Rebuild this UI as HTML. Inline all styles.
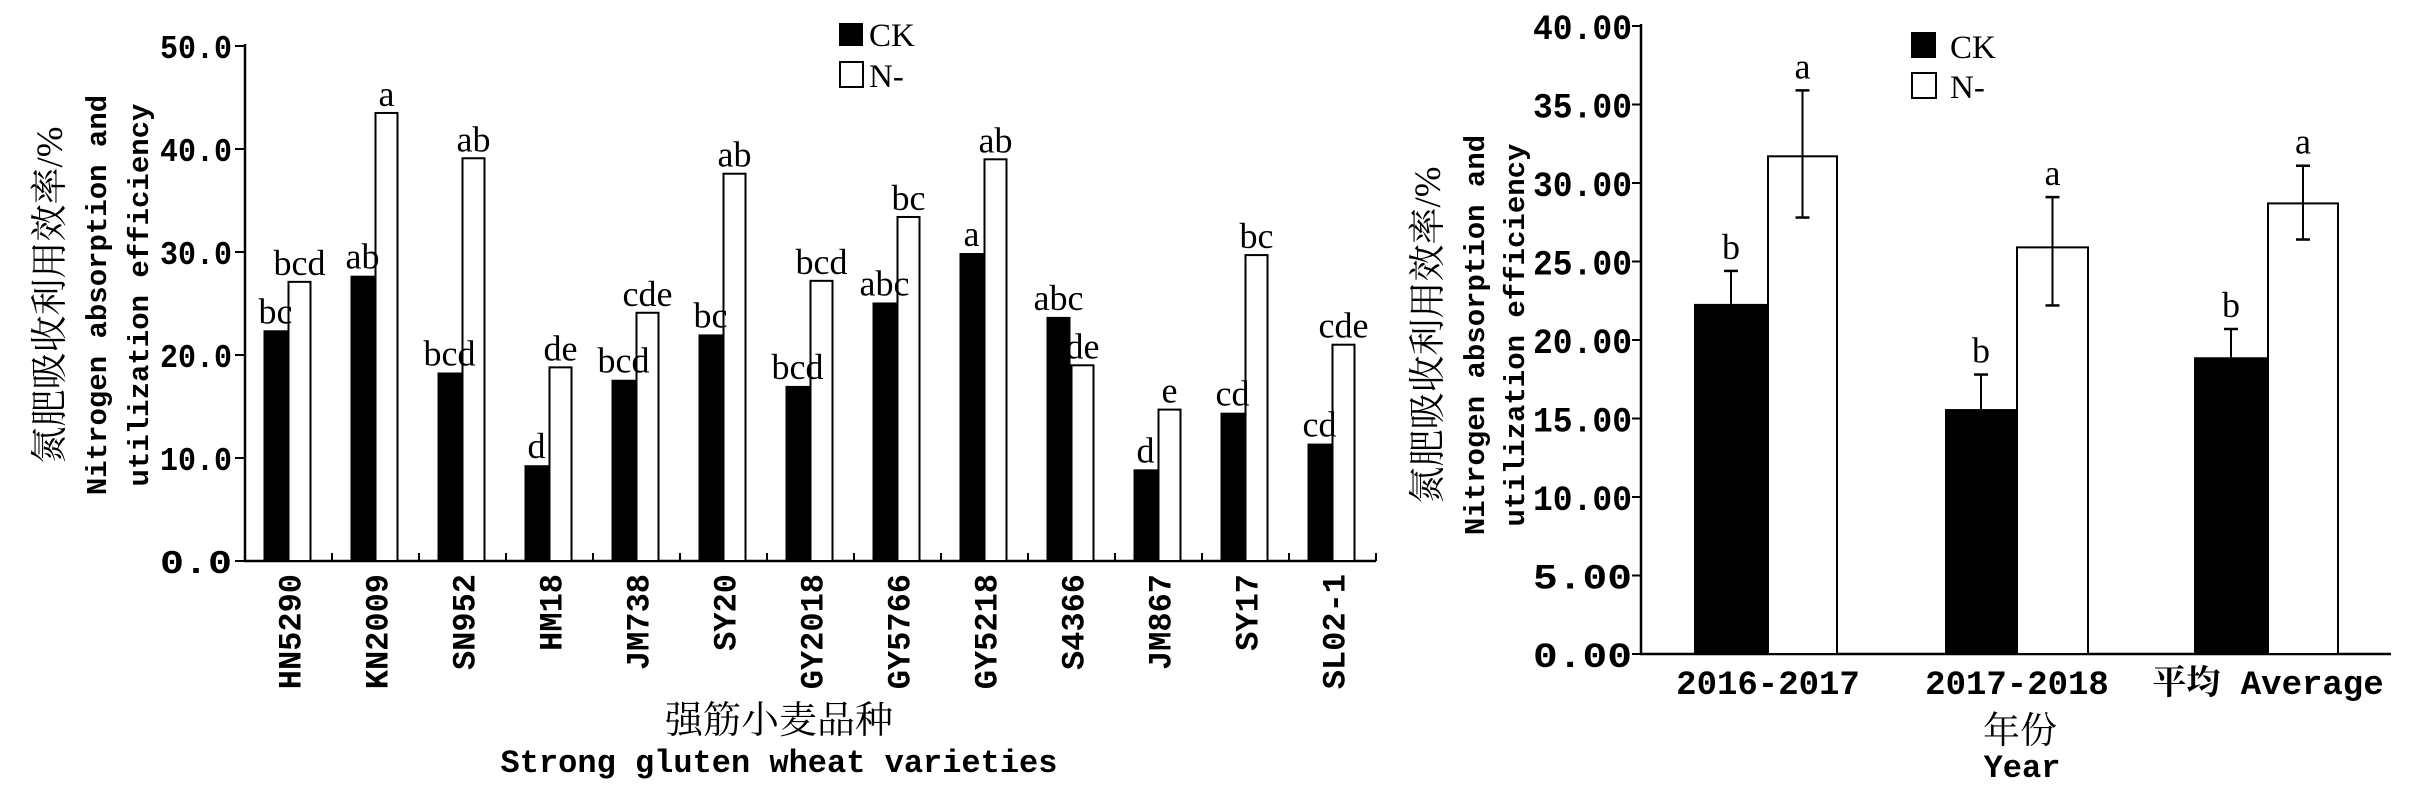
<!DOCTYPE html>
<html><head><meta charset="utf-8"><style>
html,body{margin:0;padding:0;background:#fff;}
svg{display:block;}
.m{font-family:"Liberation Mono","Noto Serif CJK SC",monospace;}
.s{font-family:"Liberation Serif","Noto Serif CJK SC",serif;}
.c{font-family:"Liberation Serif","Noto Serif CJK SC",serif;}
</style></head><body>
<svg width="2418" height="798" viewBox="0 0 2418 798" xmlns="http://www.w3.org/2000/svg">
<rect width="2418" height="798" fill="#fff"/>
<g id="left"></g>
<g id="right"></g>
</svg>
<script>
const NS="http://www.w3.org/2000/svg";
function el(p,t,a,txt){const e=document.createElementNS(NS,t);for(const k in a)e.setAttribute(k,a[k]);if(txt!==undefined)e.textContent=txt;p.appendChild(e);return e;}
const L=document.getElementById('left'),R=document.getElementById('right');
// LEFT
const yL=v=>561-v*10.3;
el(L,'line',{x1:245,y1:44,x2:245,y2:562,stroke:'#000','stroke-width':2.5});
el(L,'line',{x1:244,y1:561,x2:1376,y2:561,stroke:'#000','stroke-width':2.5});
for(let v=0;v<=50;v+=10){const y=yL(v);el(L,'line',{x1:235,y1:y,x2:245,y2:y,stroke:'#000','stroke-width':2});
el(L,'text',{x:232,y:y+12,'text-anchor':'end','font-size':33,'font-weight':'bold',class:'m',textLength:72,lengthAdjust:'spacingAndGlyphs'},v.toFixed(1));}
const names=['HN5290','KN2009','SN952','HM18','JM738','SY20','GY2018','GY5766','GY5218','S4366','JM867','SY17','SL02-1'];
const ck=[22.4,27.7,18.3,9.3,17.6,22.0,17.0,25.1,29.9,23.7,8.9,14.4,11.4];
const nn=[27.1,43.5,39.1,18.8,24.1,37.6,27.2,33.4,39.0,19.0,14.7,29.7,21.0];
const lc=['bc','ab','bcd','d','bcd','bc','bcd','abc','a','abc','d','cd','cd'];
const ln=['bcd','a','ab','de','cde','ab','bcd','bc','ab','de','e','bc','cde'];
for(let i=0;i<13;i++){const c=245+87*(i+0.5);
 el(L,'line',{x1:245+87*(i+1),y1:553,x2:245+87*(i+1),y2:561,stroke:'#000','stroke-width':2});
 el(L,'rect',{x:c-25,y:yL(ck[i]),width:24,height:561-yL(ck[i]),fill:'#000'});
 el(L,'rect',{x:c,y:yL(nn[i]),width:22,height:561-yL(nn[i]),fill:'#fff',stroke:'#000','stroke-width':2});
 el(L,'text',{x:c-13,y:yL(ck[i])-7,'text-anchor':'middle','font-size':36,class:'s'},lc[i]);
 el(L,'text',{x:c+11,y:yL(nn[i])-7,'text-anchor':'middle','font-size':36,class:'s'},ln[i]);
 el(L,'text',{x:0,y:0,'text-anchor':'end','font-size':32,'font-weight':'bold',class:'m',transform:`translate(${c+12},574) rotate(-90)`},names[i]);
}
el(L,'rect',{x:839,y:23,width:24,height:23,fill:'#000'});
el(L,'text',{x:869,y:46,'font-size':33,class:'s'},'CK');
el(L,'rect',{x:840,y:62,width:23,height:25,fill:'#fff',stroke:'#000','stroke-width':2});
el(L,'text',{x:869,y:87,'font-size':33,class:'s'},'N-');
el(L,'text',{x:0,y:0,'text-anchor':'middle','font-size':37,class:'c',transform:'translate(62,295) rotate(-90)'},'氮肥吸收利用效率/%');
el(L,'text',{x:0,y:0,'text-anchor':'middle','font-size':29,'font-weight':'bold',class:'m',transform:'translate(106,295) rotate(-90)'},'Nitrogen absorption and');
el(L,'text',{x:0,y:0,'text-anchor':'middle','font-size':29,'font-weight':'bold',class:'m',transform:'translate(148,295) rotate(-90)'},'utilization efficiency');
el(L,'text',{x:779,y:733,'text-anchor':'middle','font-size':38,class:'c'},'强筋小麦品种');
el(L,'text',{x:779,y:772,'text-anchor':'middle','font-size':32,'font-weight':'bold',class:'m'},'Strong gluten wheat varieties');
// RIGHT
const yR=v=>654-v*15.7;
el(R,'line',{x1:1641,y1:24,x2:1641,y2:655,stroke:'#000','stroke-width':2.5});
el(R,'line',{x1:1640,y1:654,x2:2391,y2:654,stroke:'#000','stroke-width':2.5});
for(let v=0;v<=40;v+=5){const y=yR(v);el(R,'line',{x1:1632,y1:y,x2:1641,y2:y,stroke:'#000','stroke-width':2});
el(R,'text',{x:1632,y:y+13,'text-anchor':'end','font-size':35,'font-weight':'bold',class:'m',textLength:99,lengthAdjust:'spacingAndGlyphs'},v.toFixed(2));}
const G=[[1694,1768,1837,22.3,24.4,31.7,27.8,35.9,'2016-2017'],[1945,2017,2088,15.6,17.8,25.9,22.2,29.1,'2017-2018'],[2194,2268,2338,18.9,20.7,28.7,26.4,31.1,'平均 Average']];
for(const g of G){
 el(R,'rect',{x:g[0],y:yR(g[3]),width:g[1]-g[0],height:654-yR(g[3]),fill:'#000'});
 el(R,'rect',{x:g[1],y:yR(g[5]),width:g[2]-g[1],height:654-yR(g[5]),fill:'#fff',stroke:'#000','stroke-width':2});
 const xc=(g[0]+g[1])/2,xn=(g[1]+g[2])/2;
 el(R,'line',{x1:xc,y1:yR(g[3]),x2:xc,y2:yR(g[4]),stroke:'#000','stroke-width':2});
 el(R,'line',{x1:xc-7,y1:yR(g[4]),x2:xc+7,y2:yR(g[4]),stroke:'#000','stroke-width':2.5});
 el(R,'line',{x1:xn,y1:yR(g[6]),x2:xn,y2:yR(g[7]),stroke:'#000','stroke-width':2});
 el(R,'line',{x1:xn-7,y1:yR(g[7]),x2:xn+7,y2:yR(g[7]),stroke:'#000','stroke-width':2.5});
 el(R,'line',{x1:xn-7,y1:yR(g[6]),x2:xn+7,y2:yR(g[6]),stroke:'#000','stroke-width':2.5});
 el(R,'text',{x:xc,y:yR(g[4])-12,'text-anchor':'middle','font-size':36,class:'s'},'b');
 el(R,'text',{x:xn,y:yR(g[7])-12,'text-anchor':'middle','font-size':36,class:'s'},'a');
 el(R,'text',{x:g[1],y:694,'text-anchor':'middle','font-size':34,'font-weight':'bold',class:'m'},g[8]);
}
el(R,'rect',{x:1911,y:32,width:25,height:26,fill:'#000'});
el(R,'text',{x:1950,y:58,'font-size':33,class:'s'},'CK');
el(R,'rect',{x:1912,y:73,width:24,height:25,fill:'#fff',stroke:'#000','stroke-width':2});
el(R,'text',{x:1950,y:98,'font-size':33,class:'s'},'N-');
el(R,'text',{x:0,y:0,'text-anchor':'middle','font-size':37,class:'c',transform:'translate(1440,335) rotate(-90)'},'氮肥吸收利用效率/%');
el(R,'text',{x:0,y:0,'text-anchor':'middle','font-size':29,'font-weight':'bold',class:'m',transform:'translate(1484,335) rotate(-90)'},'Nitrogen absorption and');
el(R,'text',{x:0,y:0,'text-anchor':'middle','font-size':29,'font-weight':'bold',class:'m',transform:'translate(1524,335) rotate(-90)'},'utilization efficiency');
el(R,'text',{x:2020,y:743,'text-anchor':'middle','font-size':37,class:'c'},'年份');
el(R,'text',{x:2022,y:777,'text-anchor':'middle','font-size':32,'font-weight':'bold',class:'m'},'Year');
</script>
</body></html>
